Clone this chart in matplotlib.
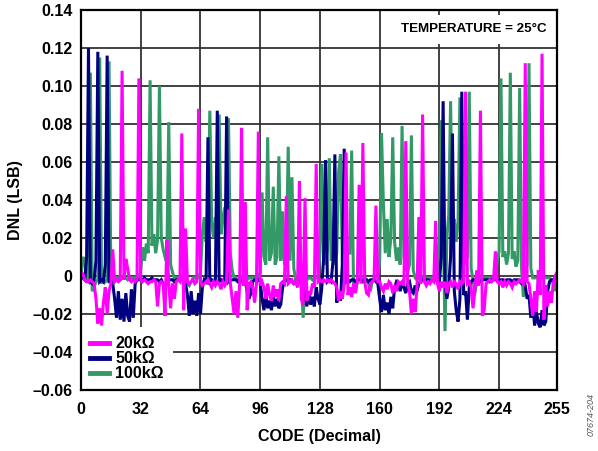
import numpy as np
import matplotlib
matplotlib.use("Agg")
import matplotlib.pyplot as plt

plt.rcParams['font.family'] = ['Liberation Sans', 'DejaVu Sans']
plt.rcParams['font.weight'] = 'bold'

codes = np.arange(256)

# DNL (LSB) per code
dnl_20k = [
    0.002, 0.001, -0.002, -0.003, -0.003, -0.002, -0.003, -0.004, -0.012, -0.025, -0.017, -0.026, -0.014, -0.006, -0.020, -0.008,
    -0.004, 0.014, -0.003, -0.002, -0.003, -0.002, 0.108, -0.002, 0.009, 0.004, -0.002, -0.003, -0.002, -0.003, -0.002, 0.104,
    -0.002, -0.003, -0.002, -0.003, -0.004, -0.003, -0.003, -0.002, -0.003, -0.016, -0.004, -0.003, -0.004, -0.021, 0.019, -0.004,
    -0.017, -0.004, -0.012, -0.003, -0.002, -0.003, 0.075, -0.018, 0.025, -0.003, -0.004, -0.003, -0.002, -0.004, -0.003, 0.088,
    -0.003, -0.005, -0.004, -0.003, -0.002, -0.004, -0.006, -0.003, -0.005, -0.003, -0.004, -0.007, -0.003, -0.005, -0.003, 0.035,
    -0.004, -0.012, -0.020, -0.008, -0.022, -0.004, 0.078, -0.005, 0.039, -0.018, -0.004, -0.003, -0.006, -0.014, -0.004, 0.076,
    -0.005, -0.003, -0.006, -0.012, -0.004, -0.010, -0.013, -0.005, -0.011, -0.007, -0.013, -0.004, -0.003, -0.004, 0.042, -0.004,
    -0.003, -0.002, -0.004, -0.003, -0.006, 0.050, -0.012, -0.015, 0.041, -0.013, -0.008, -0.010, -0.004, -0.006, 0.059, -0.003,
    -0.002, -0.003, -0.002, -0.003, -0.002, -0.003, -0.002, -0.003, -0.004, -0.006, -0.013, -0.008, -0.012, -0.005, 0.065, -0.010,
    -0.006, -0.011, -0.004, -0.009, -0.003, 0.048, -0.004, 0.070, -0.003, -0.009, -0.010, -0.004, -0.003, -0.002, 0.037, -0.003,
    -0.003, -0.006, -0.008, -0.004, -0.007, -0.003, -0.004, -0.009, -0.006, -0.008, -0.003, -0.004, -0.003, -0.005, 0.071, -0.004,
    -0.008, -0.020, -0.012, -0.019, -0.006, 0.031, -0.004, 0.085, -0.003, -0.005, -0.003, -0.004, -0.002, -0.003, 0.029, -0.004,
    -0.008, -0.003, -0.006, -0.003, -0.009, -0.004, -0.003, -0.006, -0.003, -0.004, -0.007, -0.003, -0.004, -0.003, 0.097, -0.004,
    -0.003, -0.006, -0.017, -0.008, 0.003, -0.005, 0.087, -0.021, -0.018, -0.004, -0.003, -0.002, -0.003, -0.002, 0.013, -0.003,
    -0.004, -0.003, -0.006, -0.003, -0.005, -0.003, -0.004, -0.006, -0.003, -0.004, -0.003, -0.002, -0.003, -0.004, 0.112, -0.003,
    -0.004, -0.012, -0.021, -0.008, -0.019, 0.003, -0.010, 0.117, -0.023, -0.005, -0.016, -0.008, -0.014, -0.004, 0.000, 0.002,
]

dnl_50k = [
    -0.001, -0.001, -0.002, 0.010, 0.120, -0.003, -0.004, -0.002, 0.008, 0.118, -0.003, -0.002, -0.003, 0.006, 0.116, -0.003,
    -0.003, -0.004, -0.012, -0.022, -0.008, -0.023, -0.012, -0.024, -0.009, -0.021, -0.024, -0.007, -0.022, -0.004, -0.002, -0.002,
    -0.002, -0.002, -0.001, -0.002, -0.002, -0.002, -0.001, -0.002, -0.002, -0.002, -0.003, -0.002, -0.004, -0.006, -0.003, -0.002,
    -0.002, -0.002, -0.003, -0.002, -0.002, -0.002, -0.002, -0.002, -0.004, -0.010, -0.021, -0.008, -0.020, -0.013, -0.021, -0.009,
    -0.020, -0.006, -0.002, -0.003, 0.073, -0.003, -0.002, -0.003, -0.002, 0.087, -0.003, -0.002, -0.003, -0.002, 0.084, -0.003,
    -0.002, -0.002, -0.002, -0.002, -0.003, -0.002, -0.002, -0.004, -0.003, -0.008, -0.012, -0.009, -0.003, -0.002, -0.002, -0.002,
    -0.003, -0.012, -0.018, -0.010, -0.017, -0.013, -0.018, -0.011, -0.016, -0.012, -0.017, -0.015, -0.006, -0.003, -0.002, -0.003,
    -0.002, -0.003, -0.004, -0.003, -0.002, -0.003, -0.004, -0.005, -0.010, -0.016, -0.008, -0.015, -0.011, -0.016, -0.006, -0.012,
    -0.015, -0.006, 0.010, 0.061, -0.003, -0.002, -0.003, 0.008, 0.064, -0.014, -0.009, -0.013, 0.006, 0.067, -0.003, -0.002,
    -0.003, -0.002, -0.002, -0.003, -0.002, -0.002, -0.002, -0.003, -0.002, -0.002, -0.003, -0.002, -0.002, -0.002, -0.003, -0.004,
    -0.012, -0.019, -0.010, -0.018, -0.014, -0.020, -0.011, -0.017, -0.006, -0.003, -0.004, -0.008, -0.003, -0.006, -0.009, -0.004,
    -0.003, -0.008, -0.009, -0.005, -0.008, -0.004, -0.003, -0.002, -0.002, -0.002, -0.002, -0.003, -0.002, -0.002, -0.002, -0.003,
    -0.003, 0.010, 0.092, -0.004, -0.012, -0.006, 0.010, 0.075, -0.008, -0.018, -0.024, -0.012, 0.097, -0.010, -0.008, -0.023,
    -0.006, -0.003, -0.002, -0.002, -0.002, -0.002, -0.003, -0.002, -0.002, -0.002, -0.002, -0.003, -0.002, -0.002, -0.002, -0.002,
    -0.002, -0.002, -0.002, -0.003, -0.002, -0.002, -0.002, -0.003, -0.002, -0.002, -0.002, -0.003, -0.004, -0.003, -0.005, -0.012,
    -0.010, -0.022, -0.014, -0.026, -0.019, -0.025, -0.027, -0.018, -0.026, -0.024, -0.008, -0.003, -0.002, -0.002, -0.001, 0.000,
]

dnl_100k = [
    0.000, 0.010, 0.008, -0.002, -0.003, 0.107, -0.008, -0.006, -0.003, -0.002, 0.115, -0.004, -0.002, -0.003, -0.002, 0.113,
    -0.003, -0.001, -0.001, -0.001, -0.001, -0.002, -0.001, -0.001, -0.001, -0.002, -0.001, -0.001, -0.001, -0.001, -0.002, -0.001,
    0.003, 0.015, 0.008, 0.017, 0.012, 0.103, 0.016, 0.022, 0.012, 0.019, 0.100, 0.020, 0.014, 0.010, 0.012, 0.081,
    0.006, 0.002, -0.001, -0.001, -0.001, -0.002, -0.001, -0.001, -0.002, -0.004, -0.005, -0.003, -0.001, -0.001, -0.001, -0.001,
    0.002, 0.022, 0.031, 0.018, 0.025, 0.087, 0.028, 0.020, 0.031, 0.015, 0.085, 0.022, 0.030, 0.036, 0.020, 0.083,
    0.012, 0.003, -0.001, -0.001, -0.002, -0.001, -0.001, -0.001, -0.001, -0.002, -0.001, -0.001, -0.001, -0.001, -0.001, -0.001,
    0.002, 0.044, 0.010, 0.006, 0.073, 0.008, 0.012, 0.047, 0.006, 0.010, 0.063, 0.008, 0.034, 0.006, 0.012, 0.068,
    0.008, 0.052, 0.004, -0.002, -0.001, -0.001, -0.003, -0.022, -0.004, -0.002, -0.001, -0.001, -0.002, -0.001, -0.001, -0.001,
    0.012, 0.059, 0.010, 0.006, 0.014, 0.062, 0.008, 0.010, 0.006, 0.012, 0.055, 0.064, 0.008, 0.006, 0.010, 0.012,
    0.012, 0.066, -0.005, -0.008, -0.003, -0.001, -0.001, -0.001, -0.001, -0.002, -0.004, -0.008, -0.003, -0.001, -0.001, -0.001,
    0.008, 0.075, 0.038, 0.012, 0.030, 0.010, 0.020, 0.073, 0.018, 0.008, 0.015, 0.006, 0.079, 0.010, 0.004, 0.002,
    0.006, 0.074, 0.003, -0.001, -0.002, -0.001, -0.001, -0.001, -0.001, -0.001, -0.002, -0.001, -0.001, -0.001, -0.001, -0.001,
    0.010, 0.082, 0.030, -0.029, 0.020, 0.032, 0.092, 0.025, 0.030, 0.018, 0.028, 0.094, 0.020, 0.012, 0.008, 0.010,
    0.097, 0.004, -0.002, -0.009, -0.002, -0.001, -0.001, -0.001, -0.001, -0.001, -0.001, -0.001, -0.001, -0.001, -0.001, 0.008,
    0.013, 0.104, 0.010, 0.013, 0.006, 0.012, 0.107, 0.009, 0.013, 0.005, 0.008, 0.099, 0.004, -0.011, 0.002, 0.006,
    0.112, 0.004, -0.001, -0.001, -0.001, -0.001, -0.001, -0.001, -0.001, -0.001, -0.001, -0.001, -0.002, -0.004, -0.008, 0.001,
]

series_labels = ['20kΩ', '50kΩ', '100kΩ']
series_colors = ['#FF00FF', '#000080', '#339966']

x_ticks = [0, 32, 64, 96, 128, 160, 192, 224, 255]
y_ticks = [-0.06, -0.04, -0.02, 0, 0.02, 0.04, 0.06, 0.08, 0.10, 0.12, 0.14]
y_tick_labels = ['–0.06', '–0.04', '–0.02', '0', '0.02', '0.04', '0.06', '0.08', '0.10', '0.12', '0.14']

fig = plt.figure(figsize=(5.98, 4.51), dpi=100)
ax = fig.add_axes([0.1355, 0.1353, 0.7959, 0.8425])

# draw green first, magenta on top
lines = {}
for data, lab, col in reversed(list(zip([dnl_20k, dnl_50k, dnl_100k], series_labels, series_colors))):
    ln, = ax.plot(codes, data, color=col, linewidth=2.2, solid_joinstyle='miter', zorder=3)
    lines[lab] = ln

ax.set_xlim(0, 255)
ax.set_ylim(-0.06, 0.14)
ax.set_xticks(x_ticks)
ax.set_xticklabels([str(t) for t in x_ticks])
ax.set_yticks(y_ticks)
ax.set_yticklabels(y_tick_labels)
ax.tick_params(length=0, labelsize=11.5)
ax.tick_params(axis='x', pad=9)
ax.tick_params(axis='y', pad=6)
ax.grid(True, color='#333333', linewidth=1.3, zorder=1)
ax.set_axisbelow(True)
for s in ax.spines.values():
    s.set_linewidth(1.6)
    s.set_color('black')
    s.set_zorder(4)

ax.set_xlabel('CODE (Decimal)', fontsize=11.5, fontweight='bold', labelpad=8)
ax.set_ylabel('DNL (LSB)', fontsize=11.5, fontweight='bold', labelpad=7)

ax.text(0.978, 0.965, 'TEMPERATURE = 25°C', transform=ax.transAxes, ha='right', va='top',
        fontsize=9.6, fontweight='bold', zorder=2.5,
        bbox=dict(facecolor='white', edgecolor='none', pad=6))

leg = ax.legend([lines[l] for l in series_labels], series_labels, loc='lower left',
                frameon=True, fontsize=11.5, handlelength=1.2, handletextpad=0.4,
                labelspacing=0.0, borderaxespad=0.0, borderpad=0.55, fancybox=False)
leg.get_frame().set_facecolor('white')
leg.get_frame().set_edgecolor('none')
leg.get_frame().set_alpha(1)
for h in leg.legend_handles:
    h.set_linewidth(3.5)
leg.set_zorder(3.5)

fig.text(0.988, 0.08, '07674-204', rotation=90, fontsize=6.5, color='#555555',
         style='italic', fontweight='normal', ha='center', va='center')

fig.savefig('out.png', dpi=100)
